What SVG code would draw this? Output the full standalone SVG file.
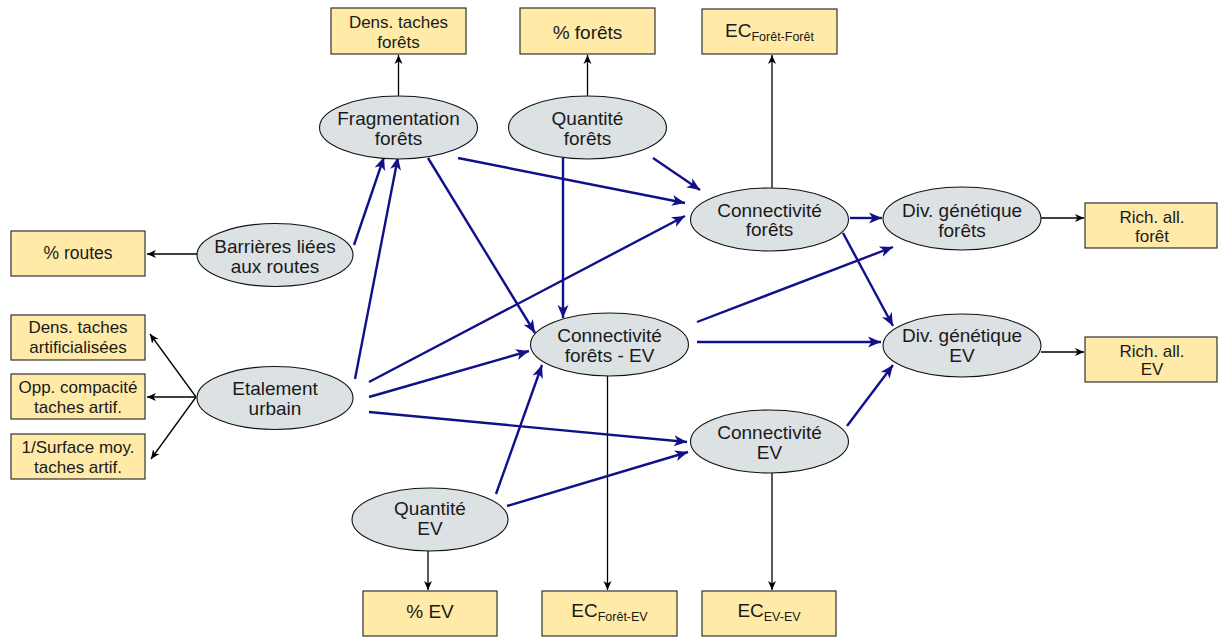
<svg xmlns="http://www.w3.org/2000/svg" width="1218" height="637" viewBox="0 0 1218 637">
<style>
.n ellipse{fill:#dce1e4;stroke:#111;stroke-width:1.1}
.x rect{fill:#ffeaa8;stroke:#333;stroke-width:1.2}
text{font-family:"Liberation Sans",Arial,sans-serif;text-anchor:middle;fill:#1a1a1a}
.e{font-size:19px}
.s{font-size:17px}
.sub{font-size:12.5px}
.b{stroke:#10108a;stroke-width:2.4;fill:none;marker-end:url(#ab)}
.k{stroke:#000;stroke-width:1.3;fill:none;marker-end:url(#ak)}
</style>
<defs>
<marker id="ab" markerUnits="userSpaceOnUse" markerWidth="16" markerHeight="14" viewBox="0 -7 16 14" refX="13" refY="0" orient="auto">
<path d="M13,0 L0,-5.5 L3.5,0 L0,5.5 Z" fill="#10108a"/>
</marker>
<marker id="ak" markerUnits="userSpaceOnUse" markerWidth="12" markerHeight="10" viewBox="0 -5 12 10" refX="9" refY="0" orient="auto">
<path d="M9,0 L0,-4 L2.5,0 L0,4 Z" fill="#000"/>
</marker>
</defs>
<g id="connectors">
<line class="k" x1="398.5" y1="96" x2="398.5" y2="55"/>
<line class="k" x1="587.5" y1="96" x2="587.5" y2="55"/>
<line class="k" x1="772" y1="188" x2="772" y2="55"/>
<line class="k" x1="197" y1="254" x2="147" y2="254"/>
<line class="k" x1="196" y1="397" x2="150" y2="334"/>
<line class="k" x1="196" y1="397" x2="147" y2="397"/>
<line class="k" x1="196" y1="397" x2="151" y2="459"/>
<line class="k" x1="428" y1="551" x2="428" y2="590"/>
<line class="k" x1="607.5" y1="367" x2="607.5" y2="590"/>
<line class="k" x1="772" y1="473" x2="772" y2="590"/>
<line class="k" x1="1041" y1="218" x2="1084" y2="218"/>
<line class="k" x1="1041" y1="352" x2="1084" y2="352"/>
<line class="b" x1="354" y1="245" x2="384" y2="157"/>
<line class="b" x1="355" y1="379" x2="398" y2="157"/>
<line class="b" x1="428" y1="158" x2="535" y2="333"/>
<line class="b" x1="458" y1="158" x2="685" y2="203"/>
<line class="b" x1="653" y1="158" x2="700" y2="190"/>
<line class="b" x1="563" y1="158" x2="563" y2="318"/>
<line class="b" x1="369" y1="382" x2="685" y2="216"/>
<line class="b" x1="369" y1="397" x2="529" y2="351"/>
<line class="b" x1="369" y1="412" x2="687" y2="442"/>
<line class="b" x1="496" y1="494" x2="542" y2="365"/>
<line class="b" x1="507" y1="506" x2="688" y2="452"/>
<line class="b" x1="697" y1="322" x2="893" y2="247"/>
<line class="b" x1="697" y1="342" x2="881" y2="342"/>
<line class="b" x1="850" y1="218" x2="882" y2="218"/>
<line class="b" x1="843" y1="233" x2="893" y2="326"/>
<line class="b" x1="847" y1="426" x2="893" y2="365"/>
</g>
<g id="frag" class="n"><ellipse cx="398.5" cy="127.5" rx="79" ry="31.5"/><text class="e" x="398.5" y="125">Fragmentation</text><text class="e" x="398.5" y="145">forêts</text></g>
<g id="qforets" class="n"><ellipse cx="587.5" cy="127.5" rx="79" ry="31.5"/><text class="e" x="587.5" y="125">Quantité</text><text class="e" x="587.5" y="145">forêts</text></g>
<g id="cforets" class="n"><ellipse cx="769.5" cy="219.5" rx="79" ry="31.5"/><text class="e" x="769.5" y="217">Connectivité</text><text class="e" x="769.5" y="236">forêts</text></g>
<g id="dforets" class="n"><ellipse cx="962" cy="218.5" rx="79" ry="31.5"/><text class="e" x="962" y="216.5">Div. génétique</text><text class="e" x="962" y="236.5">forêts</text></g>
<g id="barrieres" class="n"><ellipse cx="275" cy="255" rx="78" ry="31.5"/><text class="e" x="275" y="253">Barrières liées</text><text class="e" x="275" y="273">aux routes</text></g>
<g id="etalement" class="n"><ellipse cx="275" cy="398" rx="78" ry="31.5"/><text class="e" x="275" y="395">Etalement</text><text class="e" x="275" y="415">urbain</text></g>
<g id="cfev" class="n"><ellipse cx="609.5" cy="344.5" rx="79" ry="31.5"/><text class="e" x="609.5" y="342">Connectivité</text><text class="e" x="609.5" y="362">forêts - EV</text></g>
<g id="dev" class="n"><ellipse cx="962" cy="345.5" rx="79" ry="31.5"/><text class="e" x="962" y="342">Div. génétique</text><text class="e" x="962" y="362">EV</text></g>
<g id="cev" class="n"><ellipse cx="769.5" cy="441.5" rx="79" ry="31.5"/><text class="e" x="769.5" y="439">Connectivité</text><text class="e" x="769.5" y="459">EV</text></g>
<g id="qev" class="n"><ellipse cx="430" cy="519.5" rx="78" ry="31.5"/><text class="e" x="430" y="515">Quantité</text><text class="e" x="430" y="535">EV</text></g>
<g id="b_dens_forets" class="x"><rect x="331" y="8" width="135" height="46"/><text class="s" x="398.5" y="28">Dens. taches</text><text class="s" x="398.5" y="48">forêts</text></g>
<g id="b_pct_forets" class="x"><rect x="520" y="8" width="135" height="46"/><text class="e" x="587.5" y="39">% forêts</text></g>
<g id="b_ec_ff" class="x"><rect x="702" y="9" width="135" height="45"/><text class="e" x="769.5" y="37">EC<tspan class="sub" dy="4">Forêt-Forêt</tspan></text></g>
<g id="b_rich_foret" class="x"><rect x="1085" y="203" width="132" height="45"/><text class="s" x="1152" y="222.5">Rich. all.</text><text class="s" x="1152" y="242">forêt</text></g>
<g id="b_rich_ev" class="x"><rect x="1085" y="337" width="132" height="45"/><text class="s" x="1152" y="356.5">Rich. all.</text><text class="s" x="1152" y="375">EV</text></g>
<g id="b_routes" class="x"><rect x="11" y="231" width="134" height="45"/><text class="s" x="78" y="259" style="font-size:17.5px">% routes</text></g>
<g id="b_dens_artif" class="x"><rect x="11" y="315" width="134" height="45"/><text class="s" x="78" y="333">Dens. taches</text><text class="s" x="78" y="353">artificialisées</text></g>
<g id="b_opp" class="x"><rect x="11" y="374" width="134" height="45"/><text class="s" x="78" y="393">Opp. compacité</text><text class="s" x="78" y="413">taches artif.</text></g>
<g id="b_surf" class="x"><rect x="11" y="434" width="134" height="45"/><text class="s" x="78" y="453">1/Surface moy.</text><text class="s" x="78" y="473">taches artif.</text></g>
<g id="b_pct_ev" class="x"><rect x="363" y="591" width="134" height="45"/><text class="e" x="430" y="618">% EV</text></g>
<g id="b_ec_fev" class="x"><rect x="542" y="591" width="135" height="45"/><text class="e" x="609.5" y="617">EC<tspan class="sub" dy="4">Forêt-EV</tspan></text></g>
<g id="b_ec_evev" class="x"><rect x="702" y="591" width="134" height="45"/><text class="e" x="769" y="617">EC<tspan class="sub" dy="4">EV-EV</tspan></text></g>
</svg>
